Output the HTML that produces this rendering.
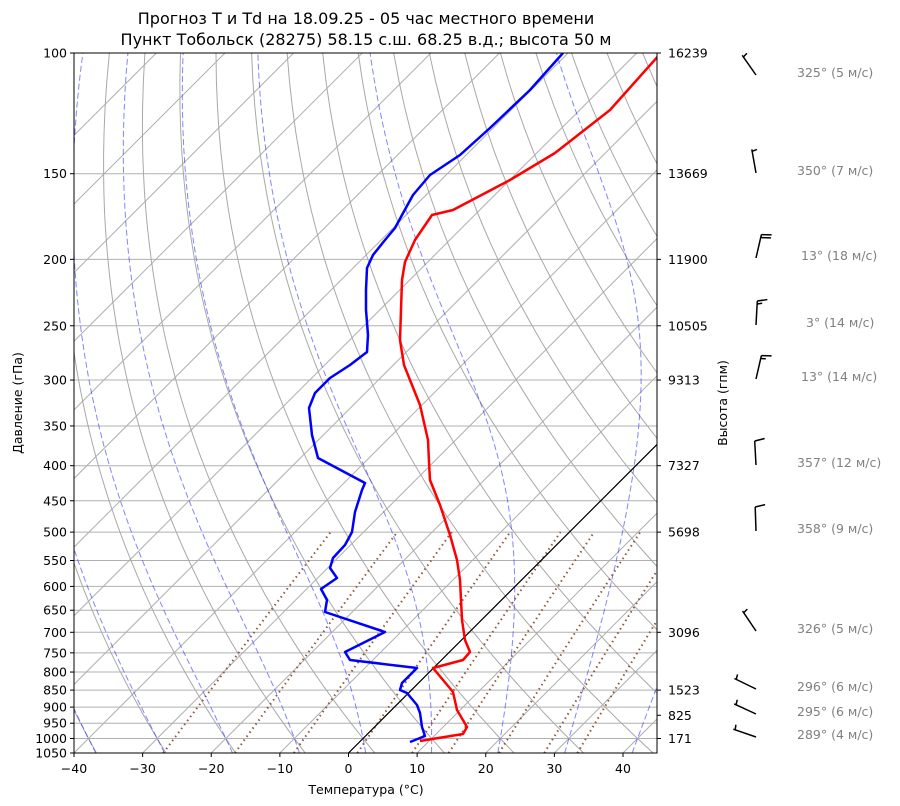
<!DOCTYPE html>
<html><head><meta charset="utf-8"><style>
body{margin:0;background:#fff;}
svg{display:block;font-family:"DejaVu Sans","Liberation Sans",sans-serif;}
</style></head><body>
<svg id="s" width="900" height="806" xmlns="http://www.w3.org/2000/svg"></svg>
<script>
var s=document.getElementById('s');
var L=74,R=657,T=53,B=753;
function Y(p){return T+700*Math.log(p/100)/Math.log(10.5);}
function X(t,p){return 348.5+6.8625*t+(B-Y(p));}
var out=[];
out.push('<defs><clipPath id="c"><rect x="'+L+'" y="'+T+'" width="'+(R-L)+'" height="'+(B-T)+'"/></clipPath></defs>');
out.push('<g clip-path="url(#c)">');
var P=[100,150,200,250,300,350,400,450,500,550,600,650,700,750,800,850,900,950,1000,1050];
P.forEach(function(p){out.push('<line x1="'+L+'" x2="'+R+'" y1="'+Y(p)+'" y2="'+Y(p)+'" stroke="#b0b0b0" stroke-width="1"/>');});
for(var t=-130;t<=50;t+=10){out.push('<line x1="'+X(t,1050)+'" y1="'+Y(1050)+'" x2="'+X(t,100)+'" y2="'+Y(100)+'" stroke="#b0b0b0" stroke-width="1"/>');}
function path(pts,attr){var d='';pts.forEach(function(q,i){d+=(i?'L':'M')+q[0].toFixed(1)+','+q[1].toFixed(1);});out.push('<path d="'+d+'" fill="none" '+attr+'/>');}
for(var th=-50;th<=220;th+=10){var pts=[];for(var p=1050;p>=100;p-=10){var tk=(th+273.15)*Math.pow(p/1000,0.2857);pts.push([X(tk-273.15,p),Y(p)]);}path(pts,'stroke="#a8a8a8" stroke-width="1"');}
function es(tc){return 6.112*Math.exp(17.67*tc/(tc+243.5));}
function dTdp(tk,p){var e=es(tk-273.15),rs=0.622*e/(p-e);return (287*tk+2.501e6*rs)/(p*(1005+2.501e6*2.501e6*rs*0.622/(287*tk*tk)));}
[-40,-30,-20,-10,0,10,20,30,40,50].forEach(function(t0){
 var up=[],tk=t0+273.15;for(var p=1000;p>=100;p-=2){up.push([X(tk-273.15,p),Y(p)]);tk-=dTdp(tk,p)*2;}
 var dn=[];tk=t0+273.15;for(var p=1000;p<=1050;p+=2){dn.push([X(tk-273.15,p),Y(p)]);tk+=dTdp(tk,p)*2;}
 var pts=dn.reverse().concat(up);
 path(pts,'stroke="#3030ff" stroke-width="1" stroke-dasharray="6,3" opacity="0.6"');});
[0.0004,0.001,0.002,0.004,0.007,0.01,0.016,0.024,0.032].forEach(function(w){var pts=[];for(var p=1050;p>=500;p-=10){var e=w*p/(0.622+w),l=Math.log(e/6.112),td=243.5*l/(17.67-l);pts.push([X(td,p),Y(p)]);}path(pts,'stroke="#8c5a3c" stroke-width="2" stroke-dasharray="1.5,3.5"');});
out.push('<line x1="'+X(0,1050)+'" y1="'+B+'" x2="'+X(0,100)+'" y2="'+T+'" stroke="#000" stroke-width="1.2"/>');
var red=[[420,741],[463,734],[467,727],[457,710],[453,692],[433,668],[463,660],[470,652],[465,640],[462,620],[460,580],[457,560],[450,535],[440,505],[430,480],[429,462],[428,440],[420,405],[412,385],[404,365],[400,340],[401,310],[402,280],[405,262],[415,240],[432,215],[453,210],[510,180],[555,153],[610,110],[660,54]];
var blue=[[410,742],[425,736],[422,727],[420,713],[417,705],[407,693],[400,690],[402,683],[417,668],[350,660],[345,652],[385,632],[325,612],[327,600],[321,589],[337,578],[330,568],[333,558],[345,545],[352,532],[355,512],[362,490],[365,483],[318,458],[312,435],[309,408],[315,393],[330,378],[350,365],[367,352],[368,335],[366,310],[366,290],[367,268],[373,255],[385,240],[395,228],[402,215],[413,195],[430,175],[460,155],[490,128],[530,90],[563,53]];
path(red,'stroke="#ff0000" stroke-width="2.5" stroke-linejoin="round"');
path(blue,'stroke="#0000ff" stroke-width="2.5" stroke-linejoin="round"');
out.push('</g>');
out.push('<rect x="'+L+'" y="'+T+'" width="'+(R-L)+'" height="'+(B-T)+'" fill="none" stroke="#000" stroke-width="1"/>');
var fs=12.5;
P.forEach(function(p){var y=Y(p);out.push('<line x1="'+(L-4)+'" x2="'+L+'" y1="'+y+'" y2="'+y+'" stroke="#000"/><text x="'+(L-7)+'" y="'+(y+4.5)+'" font-size="'+fs+'" text-anchor="end">'+p+'</text>');});
for(var t=-40;t<=40;t+=10){var x=348.5+6.8625*t;out.push('<line x1="'+x+'" x2="'+x+'" y1="'+B+'" y2="'+(B+4)+'" stroke="#000"/><text x="'+x+'" y="'+(B+20)+'" font-size="'+fs+'" text-anchor="middle">'+(t<0?'\u2212'+(-t):t)+'</text>');}
[[100,16239],[150,13669],[200,11900],[250,10505],[300,9313],[400,7327],[500,5698],[700,3096],[850,1523],[925,825],[1000,171]].forEach(function(a){var y=Y(a[0]);out.push('<line x1="'+R+'" x2="'+(R+4)+'" y1="'+y+'" y2="'+y+'" stroke="#000"/><text x="'+(R+11)+'" y="'+(y+4.5)+'" font-size="'+fs+'">'+a[1]+'</text>');});
out.push('<text x="366" y="24" font-size="16" text-anchor="middle">Прогноз T и Td на 18.09.25 - 05 час местного времени</text>');
out.push('<text x="366" y="45" font-size="16" text-anchor="middle">Пункт Тобольск (28275) 58.15 с.ш. 68.25 в.д.; высота 50 м</text>');
out.push('<text x="366" y="794" font-size="'+fs+'" text-anchor="middle">Температура (°C)</text>');
out.push('<text transform="translate(22,403) rotate(-90)" font-size="'+fs+'" text-anchor="middle">Давление (гПа)</text>');
out.push('<text transform="translate(727,403) rotate(-90)" font-size="'+fs+'" text-anchor="middle">Высота (гпм)</text>');
var W=[[325,5,72,797],[350,7,170,797],[13,18,255,801],[3,14,322,806],[13,14,376,801],[357,12,462,797],[358,9,528,797],[326,5,628,797],[296,6,686,797],[295,6,711,797],[289,4,734,797]];
W.forEach(function(w){var d=w[0]*Math.PI/180,bx=756,by=w[2]+3,Ls=24;var ux=Math.sin(d),uy=-Math.cos(d);var ex=bx+ux*Ls,ey=by+uy*Ls;var px=Math.cos(d),py=Math.sin(d);
var g='<line x1="'+bx+'" y1="'+by+'" x2="'+ex.toFixed(1)+'" y2="'+ey.toFixed(1)+'" stroke="#000" stroke-width="1.5"/>';
var v=Math.round(w[1]/5)*5,full=Math.floor(v/10),half=(v%10)>=5?1:0,pos=0;
for(var i=0;i<full;i++){var sx=ex-ux*pos,sy=ey-uy*pos;g+='<line x1="'+sx+'" y1="'+sy+'" x2="'+(sx+px*10+ux*2)+'" y2="'+(sy+py*10+uy*2)+'" stroke="#000" stroke-width="1.5"/>';pos+=3;}
if(half){if(full==0)pos=2;var sx=ex-ux*pos,sy=ey-uy*pos;g+='<line x1="'+sx+'" y1="'+sy+'" x2="'+(sx+px*5+ux*1)+'" y2="'+(sy+py*5+uy*1)+'" stroke="#000" stroke-width="1.5"/>';}
out.push(g);out.push('<text x="'+w[3]+'" y="'+(w[2]+5)+'" font-size="'+fs+'" fill="#808080">'+w[0]+'° ('+w[1]+' м/с)</text>');});
s.innerHTML=out.join('');
</script>
</body></html>
